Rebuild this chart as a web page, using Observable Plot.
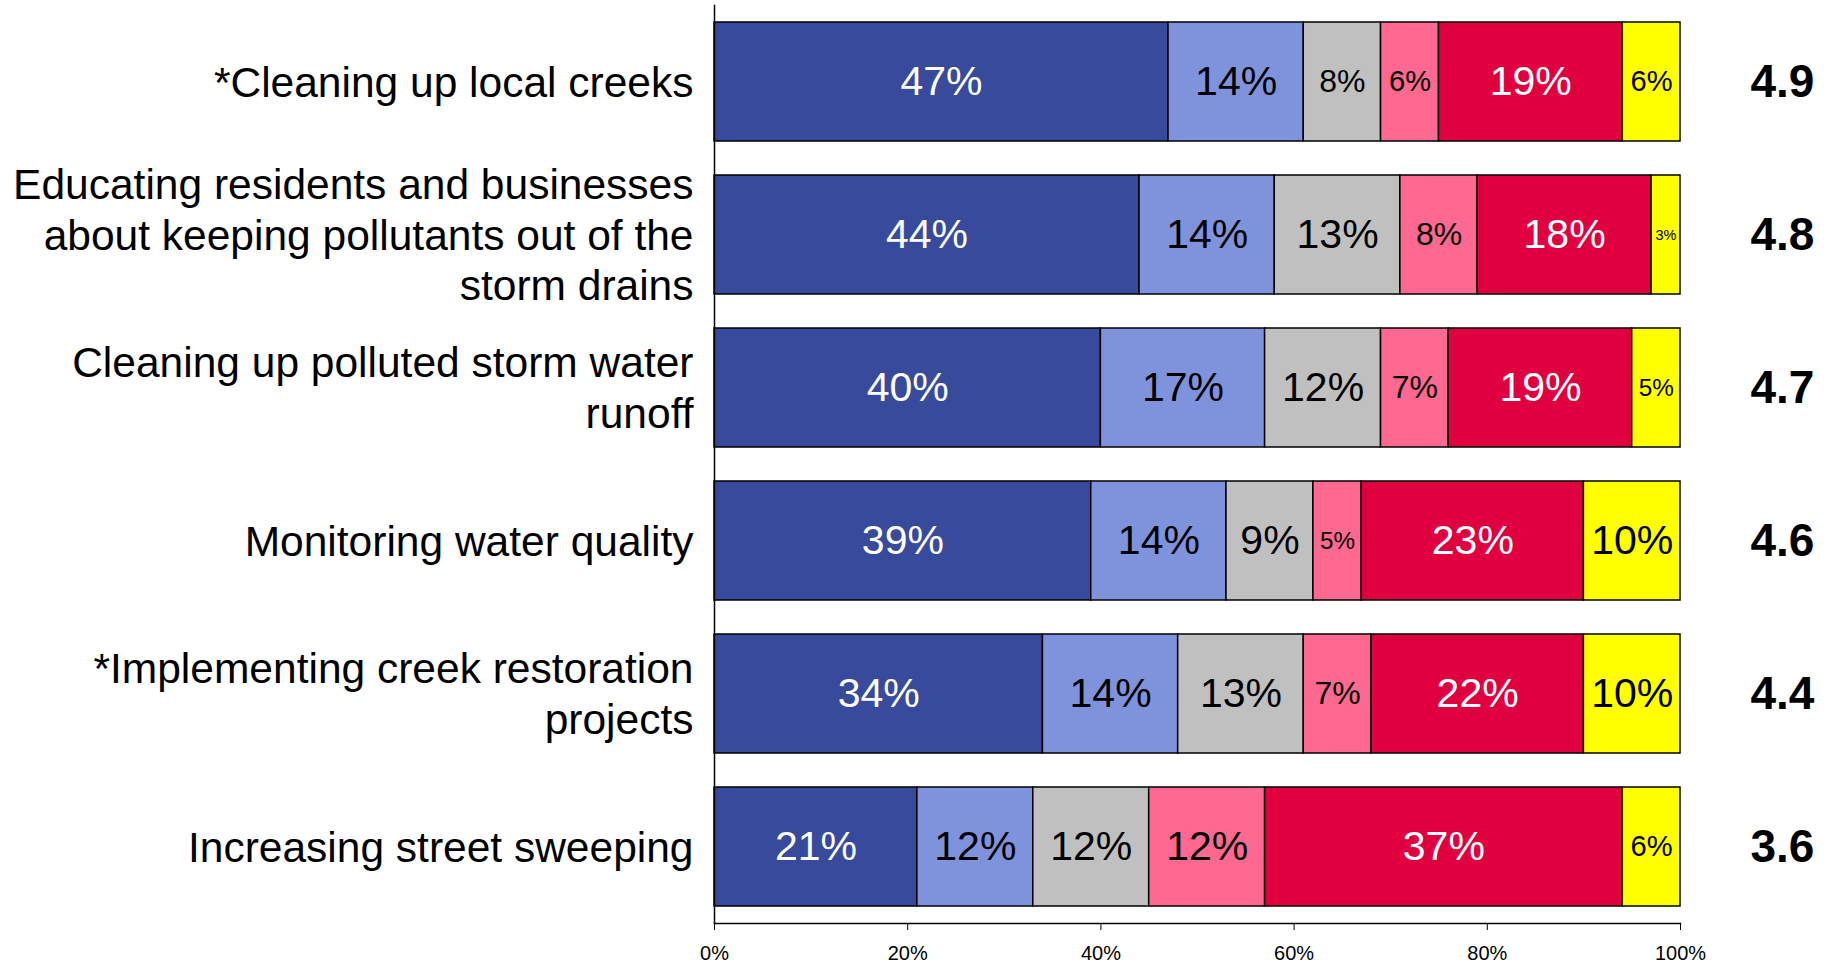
<!DOCTYPE html>
<html>
<head>
<meta charset="utf-8">
<script src="https://cdn.jsdelivr.net/npm/d3@7"></script>
<script src="https://cdn.jsdelivr.net/npm/@observablehq/plot@0.6"></script>
<style>
  html, body { margin: 0; padding: 0; background: #fff; }
  #chart svg { display: block; }
</style>
</head>
<body>
<div id="chart"></div>
<script>
// ---- Data ----
const categories = [
  "*Cleaning up local creeks",
  "Educating residents and businesses\nabout keeping pollutants out of the\nstorm drains",
  "Cleaning up polluted storm water\nrunoff",
  "Monitoring water quality",
  "*Implementing creek restoration\nprojects",
  "Increasing street sweeping"
];
const seriesNames = ["Rating 7", "Rating 6", "Rating 5", "Rating 4", "Rating 1-3", "Don't know"];
const seriesColors = ["#374A9B", "#7F93DD", "#C0C0C0", "#FF6891", "#E0003F", "#FFFF00"];
const s1 = [47, 44, 40, 39, 34, 21];
const s2 = [14, 14, 17, 14, 14, 12];
const s3 = [8, 13, 12, 9, 13, 12];
const s4 = [6, 8, 7, 5, 7, 12];
const s5 = [19, 18, 19, 23, 22, 37];
const s6 = [6, 3, 5, 10, 10, 6];
const means = [4.9, 4.8, 4.7, 4.6, 4.4, 3.6];
const xTicks = [0, 20, 40, 60, 80, 100];

const seriesValues = [s1, s2, s3, s4, s5, s6];
const rows = [];
categories.forEach((c, i) => {
  seriesNames.forEach((s, j) => {
    rows.push({category: c, series: s, si: j, value: seriesValues[j][i]});
  });
});
const meanRows = categories.map((c, i) => ({category: c, mean: means[i]}));

const font = "Arial, 'Liberation Sans', Helvetica, sans-serif";
const labelSize = d => d.value >= 9 ? 41 : Math.min(32, d.value * 4.85);
const labelFill = d => (d.si === 0 || d.si === 4) ? "white" : "black";

const chart = Plot.plot({
  width: 1833,
  height: 965,
  marginLeft: 714,
  marginRight: 153,
  marginTop: 5,
  marginBottom: 42,
  style: {fontFamily: font, background: "white", color: "black"},
  x: {domain: [0, 100], label: null},
  y: {domain: categories, paddingInner: 0.22, paddingOuter: 0.11, label: null},
  color: {domain: seriesNames, range: seriesColors},
  marks: [
    Plot.barX(rows, Plot.stackX({
      x: "value", y: "category", z: "series", fill: "series",
      stroke: "black", strokeWidth: 1.5, order: null
    })),
    Plot.text(rows, Plot.stackX({
      x: "value", y: "category", z: "series", order: null,
      text: d => d.value + "%",
      fill: labelFill,
      fontSize: labelSize,
      fontFamily: font
    })),
    Plot.text(meanRows, {
      x: () => 100, y: "category", text: d => d.mean.toFixed(1),
      dx: 70, textAnchor: "start", fontWeight: "bold", fontSize: 46, fontFamily: font, fill: "black"
    }),
    Plot.frame({anchor: "left", stroke: "black", strokeWidth: 1.5}),
    Plot.frame({anchor: "bottom", stroke: "black", strokeWidth: 1.5}),
    Plot.axisX({
      ticks: xTicks, tickFormat: d => d + "%", tickSize: 7, tickPadding: 15,
      fontSize: 20, label: null, stroke: "black"
    }),
    Plot.axisY({
      tickSize: 0, tickPadding: 21, fontSize: 42.5, lineHeight: 1.18, label: null,
      fontFamily: font, dy: -1.5
    })
  ]
});
document.getElementById("chart").appendChild(chart);
</script>
</body>
</html>
